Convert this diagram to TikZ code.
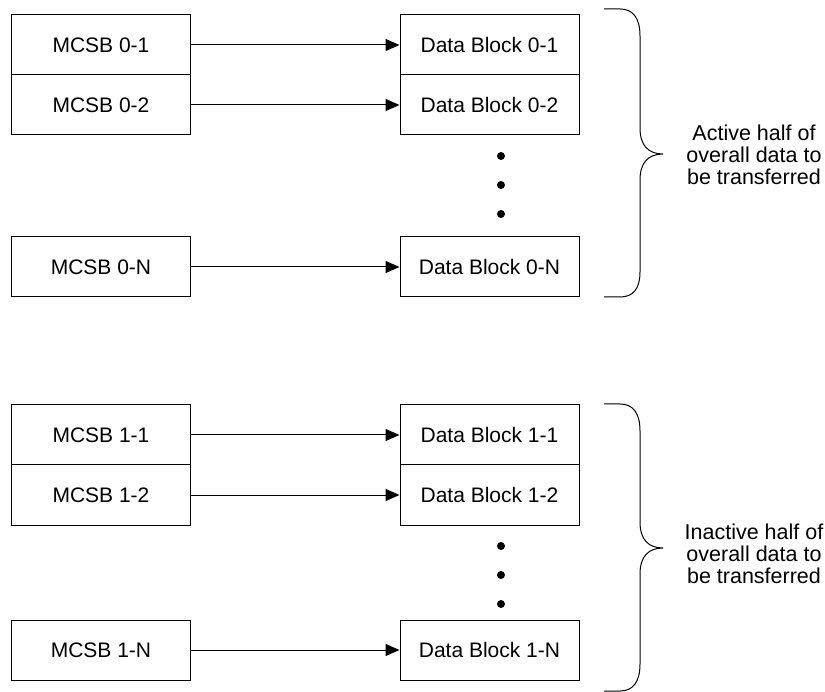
\documentclass[tikz,border=0pt]{standalone}
\usepackage{fontspec}
\setmainfont{Liberation Sans}
\usetikzlibrary{arrows.meta}
\begin{document}
\begin{tikzpicture}[x=1pt,y=-1pt,
  box/.style={draw=black,line width=1pt,minimum width=179pt,minimum height=60pt,inner sep=0pt,
    font=\fontsize{21}{22}\selectfont},
  conn/.style={line width=1pt,-{Triangle[length=14pt,width=12pt]}},
  dotmark/.style={fill=black,circle,inner sep=0pt,minimum size=8pt},
  brace/.style={line width=1pt},
  note/.style={align=center,inner sep=0pt,font=\fontsize{21.5}{22}\selectfont}]
\useasboundingbox (0,0) rectangle (825,692);
% top group
\node[box] (m01) at (101,45) {MCSB 0-1};
\node[box] (m02) at (101,105) {MCSB 0-2};
\node[box] (m0n) at (101,267) {MCSB 0-N};
\node[box] (d01) at (489.5,45) {Data Block 0-1};
\node[box] (d02) at (489.5,105) {Data Block 0-2};
\node[box] (d0n) at (489.5,267) {Data Block 0-N};
\draw[conn] (m01) -- (d01);
\draw[conn] (m02) -- (d02);
\draw[conn] (m0n) -- (d0n);
\node[dotmark] (t1) at (501,156) {};
\node[dotmark] (t2) at (501,185) {};
\node[dotmark] (t3) at (501,214) {};
\draw[brace] (604,9) -- (620,9) .. controls (633,9) and (640,18) .. (640,36)
  -- (640,128) .. controls (640,145) and (648,154) .. (663,154)
  .. controls (648,154) and (640,163) .. (640,180)
  -- (640,272) .. controls (640,289) and (633,297) .. (620,297) -- (604,297);
\node[note] (n0) at (754,155) {Active half of\\overall data to\\be transferred};
% bottom group
\node[box] (m11) at (101,435) {MCSB 1-1};
\node[box] (m12) at (101,495) {MCSB 1-2};
\node[box] (m1n) at (101,650) {MCSB 1-N};
\node[box] (d11) at (489.5,435) {Data Block 1-1};
\node[box] (d12) at (489.5,495) {Data Block 1-2};
\node[box] (d1n) at (489.5,650) {Data Block 1-N};
\draw[conn] (m11) -- (d11);
\draw[conn] (m12) -- (d12);
\draw[conn] (m1n) -- (d1n);
\node[dotmark] (b1) at (501,546) {};
\node[dotmark] (b2) at (501,575) {};
\node[dotmark] (b3) at (501,604) {};
\draw[brace] (604,404) -- (620,404) .. controls (633,404) and (640,413) .. (640,431)
  -- (640,522) .. controls (640,539) and (648,548) .. (663,548)
  .. controls (648,548) and (640,557) .. (640,574)
  -- (640,664) .. controls (640,682) and (633,691) .. (620,691) -- (604,691);
\node[note] (n1) at (754,554) {Inactive half of\\overall data to\\be transferred};
\end{tikzpicture}
\end{document}
